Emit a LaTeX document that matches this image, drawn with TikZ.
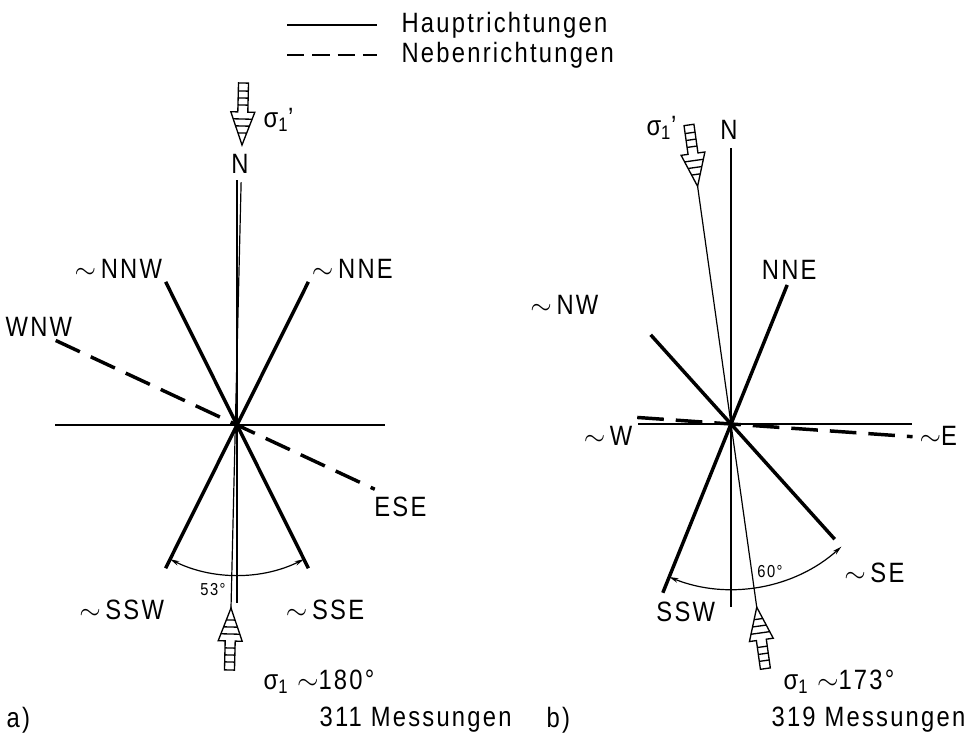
\documentclass[tikz,border=0pt]{standalone}
\usepackage{fontspec}
\setmainfont{Liberation Sans}[FakeStretch=0.85,LetterSpace=8]
\usetikzlibrary{calc,positioning,arrows.meta}

\begin{document}
\begin{tikzpicture}[x=0.0264cm, y=-0.0264cm,
  hline/.style={line width=2.6pt},
  nline/.style={line width=2.6pt, dash pattern=on 20pt off 9pt},
  axis/.style={line width=0.9pt},
  lbl/.style={font=\fontsize{21}{24}\selectfont, inner sep=1pt},
  smalllbl/.style={font=\fontsize{13}{15}\selectfont, inner sep=1pt},
  ang/.style={line width=0.9pt, {Stealth[length=7pt,width=3.5pt]}-{Stealth[length=7pt,width=3.5pt]}},
  sigarrow/.pic={
    \draw[line width=1pt, fill=white] (0,0) -- (-12,-33) -- (-5,-33) -- (-5,-62) -- (5,-62) -- (5,-33) -- (12,-33) -- cycle;
    \foreach \h in {12,19,26} \draw[line width=1pt] (-12*\h/33,-\h) -- (12*\h/33,-\h);
    \foreach \h in {40,47,54} \draw[line width=1pt] (-5,-\h) -- (5,-\h);
  }]
\useasboundingbox (0,0) rectangle (971,739);

% legend
\coordinate (h1) at (287,25);
\coordinate (h2) at (377,25);
\coordinate (n1) at (287,55);
\coordinate (n2) at (377,55);
\draw[line width=1.6pt] (h1) -- (h2);
\draw[line width=1.6pt, dash pattern=on 13pt off 6pt] (n1) -- (n2);
\node[lbl, anchor=west] (haupt) at (400,25) {Hauptrichtungen};
\node[lbl, anchor=west] (neben) at (400,55) {Nebenrichtungen};

% a)
\coordinate (ca) at (237,425);
\coordinate (na) at (237,180);
\coordinate (sa) at (237,603);
\coordinate (wa) at (55,425);
\coordinate (ea) at (385,425);
\coordinate (nnwa) at ($(ca)+(243.5:160)$);
\coordinate (ssea) at ($(ca)+(63.5:160)$);
\coordinate (nnea) at ($(ca)+(-63.5:160)$);
\coordinate (sswa) at ($(ca)+(116.5:160)$);
\coordinate (wnwa) at ($(ca)+(205:200)$);
\coordinate (esea) at ($(ca)+(25:152)$);
\coordinate (ta) at (242,145);
\coordinate (ba) at (231,608);
\draw[axis] (na) -- (sa);
\draw[axis] (wa) -- (ea);
\draw[axis] ($(ta)!0.08!(ba)$) -- (ba);
\draw[hline] (nnwa) -- (ssea);
\draw[hline] (nnea) -- (sswa);
\draw[nline] (wnwa) -- (esea);
\draw[ang] ($(ca)+(116.5:150)$) arc[start angle=116.5, end angle=63.5, radius=150];
\pic[rotate=-1.4] at (ta) {sigarrow};
\pic[rotate=178.6] at (ba) {sigarrow};
\node[lbl, anchor=west] (sa1) at (262,120) {σ\textsubscript{1}'};
\node[lbl] (nla) at (240,164) {N};
\node[lbl, anchor=south east] (nnwl) at ($(nnwa)+(-2,-2)$) {$\sim$\,NNW};
\node[lbl, anchor=south west] (nnel) at ($(nnea)+(2,-2)$) {$\sim$\,NNE};
\node[lbl, anchor=west] (wnwl) at (4,327) {WNW};
\node[lbl, anchor=north west] (esel) at ($(esea)+(-2,6)$) {ESE};
\node[lbl, anchor=north east] (sswl) at ($(sswa)+(0,30)$) {$\sim$\,SSW};
\node[lbl, anchor=north west] (ssel) at ($(ssea)+(-24,30)$) {$\sim$\,SSE};
\node[smalllbl] (anga) at (213,590) {53°};
\node[lbl, anchor=west] (s1a) at (262,682) {σ\textsubscript{1} $\sim$180°};
\node[lbl, anchor=west] (la) at (5,720) {a)};
\node[lbl, anchor=west] (ma) at (318,720) {311 Messungen};

% b)
\coordinate (cb) at (731,424);
\coordinate (nb) at (731,148);
\coordinate (sb) at (731,607);
\coordinate (wb) at (638,424);
\coordinate (eb) at (912,424);
\coordinate (nneb) at ($(cb)+(-68:150)$);
\coordinate (sswb) at ($(cb)+(112:182)$);
\coordinate (nwb) at ($(cb)+(228:120)$);
\coordinate (seb) at ($(cb)+(48:155)$);
\coordinate (wwb) at ($(cb)+(184:94)$);
\coordinate (eeb) at ($(cb)+(4:182)$);
\coordinate (tb) at ($(cb)+(-98:240)$);
\coordinate (bb) at ($(cb)+(82:185)$);
\draw[axis] (nb) -- (sb);
\draw[axis] (wb) -- (eb);
\draw[axis] (tb) -- (bb);
\draw[hline] (nneb) -- (sswb);
\draw[hline] (nwb) -- (seb);
\draw[nline] (wwb) -- (eeb);
\draw[ang] ($(cb)+(112:165)$) arc[start angle=112, end angle=48, radius=165];
\pic[rotate=8] at (tb) {sigarrow};
\pic[rotate=188] at (bb) {sigarrow};
\node[lbl, anchor=east] (sb1) at (678,128) {σ\textsubscript{1}'};
\node[lbl] (nlb) at (729,130) {N};
\node[lbl, anchor=south] (nnel) at ($(nneb)+(2,-4)$) {NNE};
\node[lbl, anchor=east] (nwl) at (600,305) {$\sim$\,NW};
\node[lbl, anchor=east] (wl) at ($(wb)+(-4,12)$) {$\sim$\,W};
\node[lbl, anchor=west] (el) at ($(eb)+(6,12)$) {$\sim$E};
\node[lbl, anchor=west] (sel) at ($(seb)+(8,34)$) {$\sim$\,SE};
\node[lbl, anchor=north west] (sswl) at ($(sswb)+(-8,8)$) {SSW};
\node[smalllbl] (angb) at (770,572) {60°};
\node[lbl, anchor=west] (s1b) at (782,682) {σ\textsubscript{1} $\sim$173°};
\node[lbl, anchor=west] (lb) at (545,720) {b)};
\node[lbl, anchor=west] (mb) at (770,720) {319 Messungen};
\end{tikzpicture}
\end{document}
